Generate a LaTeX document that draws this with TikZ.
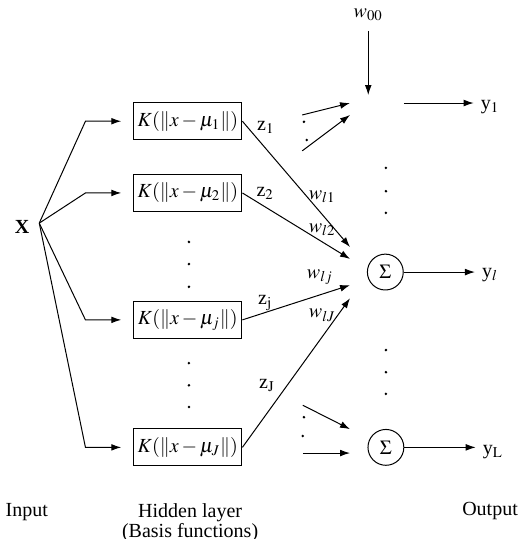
\documentclass[tikz,border=0pt]{standalone}
\usepackage{mathptmx}
\usepackage[no-math]{fontspec}
\setmainfont{Liberation Serif}
\usetikzlibrary{arrows.meta}

\tikzset{
  kbox/.style={draw, minimum width=1.90cm, minimum height=0.65cm, inner sep=0pt},
  sumnode/.style={draw, circle, minimum size=0.63cm, inner sep=0pt},
  neuron/.style={circle, minimum size=0.63cm, inner sep=0pt},
}
\newcommand{\kfun}[1]{$K(\|x-\mu_{#1}\|)$}

\begin{document}
\begin{tikzpicture}[>={Latex[length=5pt,width=3.4pt]},line width=0.5pt]
  \useasboundingbox (0,0) rectangle (9.10,-9.47);
  % input
  \node (x) at (0.39,-3.99) {\textbf{X}};
  \coordinate (xo) at (0.69,-3.92);
  % hidden layer
  \node[kbox] (k1) at (3.30,-2.13) {\kfun{1}};
  \node[kbox] (k2) at (3.30,-3.39) {\kfun{2}};
  \node[kbox] (kj) at (3.30,-5.62) {\kfun{j}};
  \node[kbox] (kJ) at (3.30,-7.86) {\kfun{J}};
  \draw[->,shorten >=6pt] (xo) -- ([xshift=-0.84cm]k1.west) -- (k1.west);
  \draw[->,shorten >=6pt] (xo) -- ([xshift=-0.84cm]k2.west) -- (k2.west);
  \draw[->,shorten >=6pt] (xo) -- ([xshift=-0.84cm]kj.west) -- (kj.west);
  \draw[->,shorten >=6pt] (xo) -- ([xshift=-0.84cm]kJ.west) -- (kJ.west);
  \foreach \y in {-4.25,-4.64,-5.04,-6.38,-6.77,-7.15}
    \fill (3.32,\y) circle (0.7pt);
  % output layer
  \node[neuron] (s1) at (6.77,-1.81) {};
  \node[sumnode] (sl) at (6.77,-4.78) {$\Sigma$};
  \node[sumnode] (sL) at (6.78,-7.86) {$\Sigma$};
  \foreach \y in {-2.95,-3.36,-3.74,-6.15,-6.54,-6.92}
    \fill (6.78,\y) circle (0.7pt);
  \node (y1) at (8.61,-1.88) {y$_1$};
  \node (yl) at (8.61,-4.83) {y$_l$};
  \node (yL) at (8.66,-7.94) {y$_\mathrm{L}$};
  \draw[->] (s1.east) -- (s1.east -| y1.west);
  \draw[->] (sl.east) -- (sl.east -| yl.west);
  \draw[->] (sL.east) -- (sL.east -| yL.west);
  % bias
  \node (w00) at (6.47,-0.26) {$w_{00}$};
  \coordinate (b0) at (6.47,-1.67);
  \draw[->,shorten <=1.5pt] (w00) -- (b0);
  % links into the first output
  \coordinate (p1) at (5.31,-2.02);
  \coordinate (q1) at (6.15,-1.81);
  \coordinate (p2) at (5.31,-2.65);
  \coordinate (q2) at (6.15,-2.02);
  \draw[->] (p1) -- (q1);
  \draw[->] (p2) -- (q2);
  \fill (5.34,-2.14) circle (0.7pt);
  \fill (5.39,-2.46) circle (0.7pt);
  % links into the l-th output
  \coordinate (a1) at (6.15,-4.34);
  \coordinate (a2) at (6.15,-4.55);
  \coordinate (aj) at (6.15,-5.01);
  \coordinate (aJ) at (6.15,-5.24);
  \draw[->] (k1.east) -- (a1);
  \draw[->] (k2.east) -- (a2);
  \draw[->] (kj.east) -- (aj);
  \draw[->] (kJ.east) -- (aJ);
  \node at (4.67,-2.23) {z$_1$};
  \node at (4.66,-3.39) {z$_2$};
  \node at (4.66,-5.32) {z$_\mathrm{j}$};
  \node at (4.69,-6.77) {z$_\mathrm{J}$};
  \node at (5.66,-3.46) {$w_{l1}$};
  \node at (5.66,-4.04) {$w_{l2}$};
  \node at (5.62,-4.87) {$w_{lj}$};
  \node at (5.66,-5.54) {$w_{lJ}$};
  % links into the last output
  \coordinate (r1) at (5.32,-7.12);
  \coordinate (t1) at (6.15,-7.54);
  \coordinate (r2) at (5.32,-7.96);
  \coordinate (t2) at (6.15,-7.96);
  \draw[->] (r1) -- (t1);
  \draw[->] (r2) -- (t2);
  \fill (5.34,-7.33) circle (0.7pt);
  \fill (5.32,-7.66) circle (0.7pt);
  % layer names
  \node at (0.47,-9.00) {Input};
  \node at (3.34,-9.00) {Hidden layer};
  \node at (3.34,-9.35) {(Basis functions)};
  \node at (8.61,-8.97) {Output};
\end{tikzpicture}
\end{document}
